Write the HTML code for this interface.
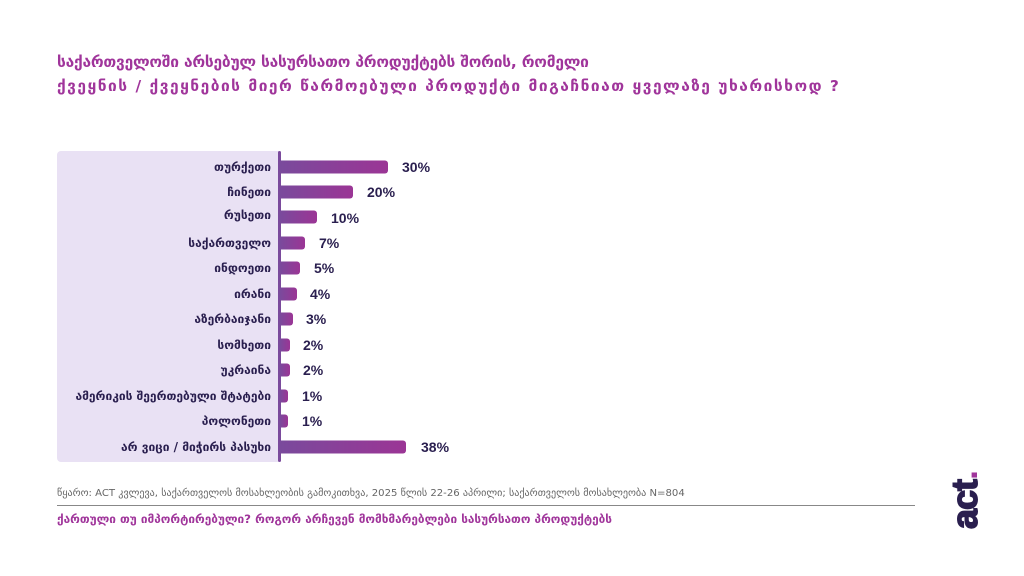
<!DOCTYPE html>
<html><head><meta charset="utf-8"><style>
body{margin:0;width:1024px;height:576px;background:#fff;position:relative;overflow:hidden;font-family:"DejaVu Sans","Liberation Sans",sans-serif}
.t{position:absolute;left:57px;color:#a0359b;font-weight:bold;font-size:15.5px;white-space:nowrap}
.panel{position:absolute;left:57px;top:151px;width:224px;height:311px;background:#e9e1f4;border-radius:4px}
.axis{position:absolute;left:278px;top:151px;width:3px;height:311px;background:#7a4a9c;border-radius:2px}
.lab{position:absolute;right:753px;font-size:12px;font-weight:bold;color:#2a1f4f;white-space:nowrap;transform:translateY(-50%)}
.bar{position:absolute;left:280px;height:13px;border-radius:0 3px 3px 0;transform:translateY(-50%);background:linear-gradient(90deg,#7a4a9c,#9b3595)}
.v{position:absolute;font-size:14px;font-weight:bold;color:#2a1f4f;transform:translateY(-50%);font-family:"Liberation Sans",sans-serif}
.src{position:absolute;left:57px;top:488px;font-size:10.1px;color:#666;white-space:nowrap}
.line{position:absolute;left:57px;top:505px;width:858px;height:1px;background:#888}
.sub{position:absolute;left:57px;top:512px;font-size:11.8px;color:#a0359b;font-weight:bold;white-space:nowrap}
.logo{position:absolute;left:920px;top:463px;width:90px;transform:rotate(-90deg);font-family:"Liberation Sans",sans-serif;font-weight:900;font-size:36px;color:#2a1f4f;letter-spacing:-1px;-webkit-text-stroke:1.5px #2a1f4f}
</style></head><body>
<div class="t" style="top:53px;letter-spacing:-0.2px">საქართველოში არსებულ სასურსათო პროდუქტებს შორის, რომელი</div>
<div class="t" style="top:77px;letter-spacing:1.5px">ქვეყნის / ქვეყნების მიერ წარმოებული პროდუქტი მიგაჩნიათ ყველაზე უხარისხოდ ?</div>
<div class="panel"></div>
<div class="axis"></div>
<div class="lab" style="top:167px">თურქეთი</div><div class="bar" style="top:167px;width:108px"></div><div class="v" style="top:167px;left:402px">30%</div>
<div class="lab" style="top:192px">ჩინეთი</div><div class="bar" style="top:192px;width:73px"></div><div class="v" style="top:192px;left:367px">20%</div>
<div class="lab" style="top:215px">რუსეთი</div><div class="bar" style="top:217px;width:37px"></div><div class="v" style="top:218px;left:331px">10%</div>
<div class="lab" style="top:243px">საქართველო</div><div class="bar" style="top:243px;width:25px"></div><div class="v" style="top:243px;left:319px">7%</div>
<div class="lab" style="top:268px">ინდოეთი</div><div class="bar" style="top:268px;width:20px"></div><div class="v" style="top:268px;left:314px">5%</div>
<div class="lab" style="top:294px">ირანი</div><div class="bar" style="top:294px;width:17px"></div><div class="v" style="top:294px;left:310px">4%</div>
<div class="lab" style="top:319px">აზერბაიჯანი</div><div class="bar" style="top:319px;width:13px"></div><div class="v" style="top:319px;left:306px">3%</div>
<div class="lab" style="top:345px">სომხეთი</div><div class="bar" style="top:345px;width:10px"></div><div class="v" style="top:345px;left:303px">2%</div>
<div class="lab" style="top:370px">უკრაინა</div><div class="bar" style="top:370px;width:10px"></div><div class="v" style="top:370px;left:303px">2%</div>
<div class="lab" style="top:396px">ამერიკის შეერთებული შტატები</div><div class="bar" style="top:396px;width:8px"></div><div class="v" style="top:396px;left:302px">1%</div>
<div class="lab" style="top:421px">პოლონეთი</div><div class="bar" style="top:421px;width:8px"></div><div class="v" style="top:421px;left:302px">1%</div>
<div class="lab" style="top:447px">არ ვიცი / მიჭირს პასუხი</div><div class="bar" style="top:447px;width:126px"></div><div class="v" style="top:447px;left:421px">38%</div>
<div class="src">წყარო: ACT კვლევა, საქართველოს მოსახლეობის გამოკითხვა, 2025 წლის 22-26 აპრილი; საქართველოს მოსახლეობა N=804</div>
<div class="line"></div>
<div class="sub">ქართული თუ იმპორტირებული? როგორ არჩევენ მომხმარებლები სასურსათო პროდუქტებს</div>
<div class="logo">act<span style="color:#a0359b;-webkit-text-stroke:0">.</span></div>
</body></html>
